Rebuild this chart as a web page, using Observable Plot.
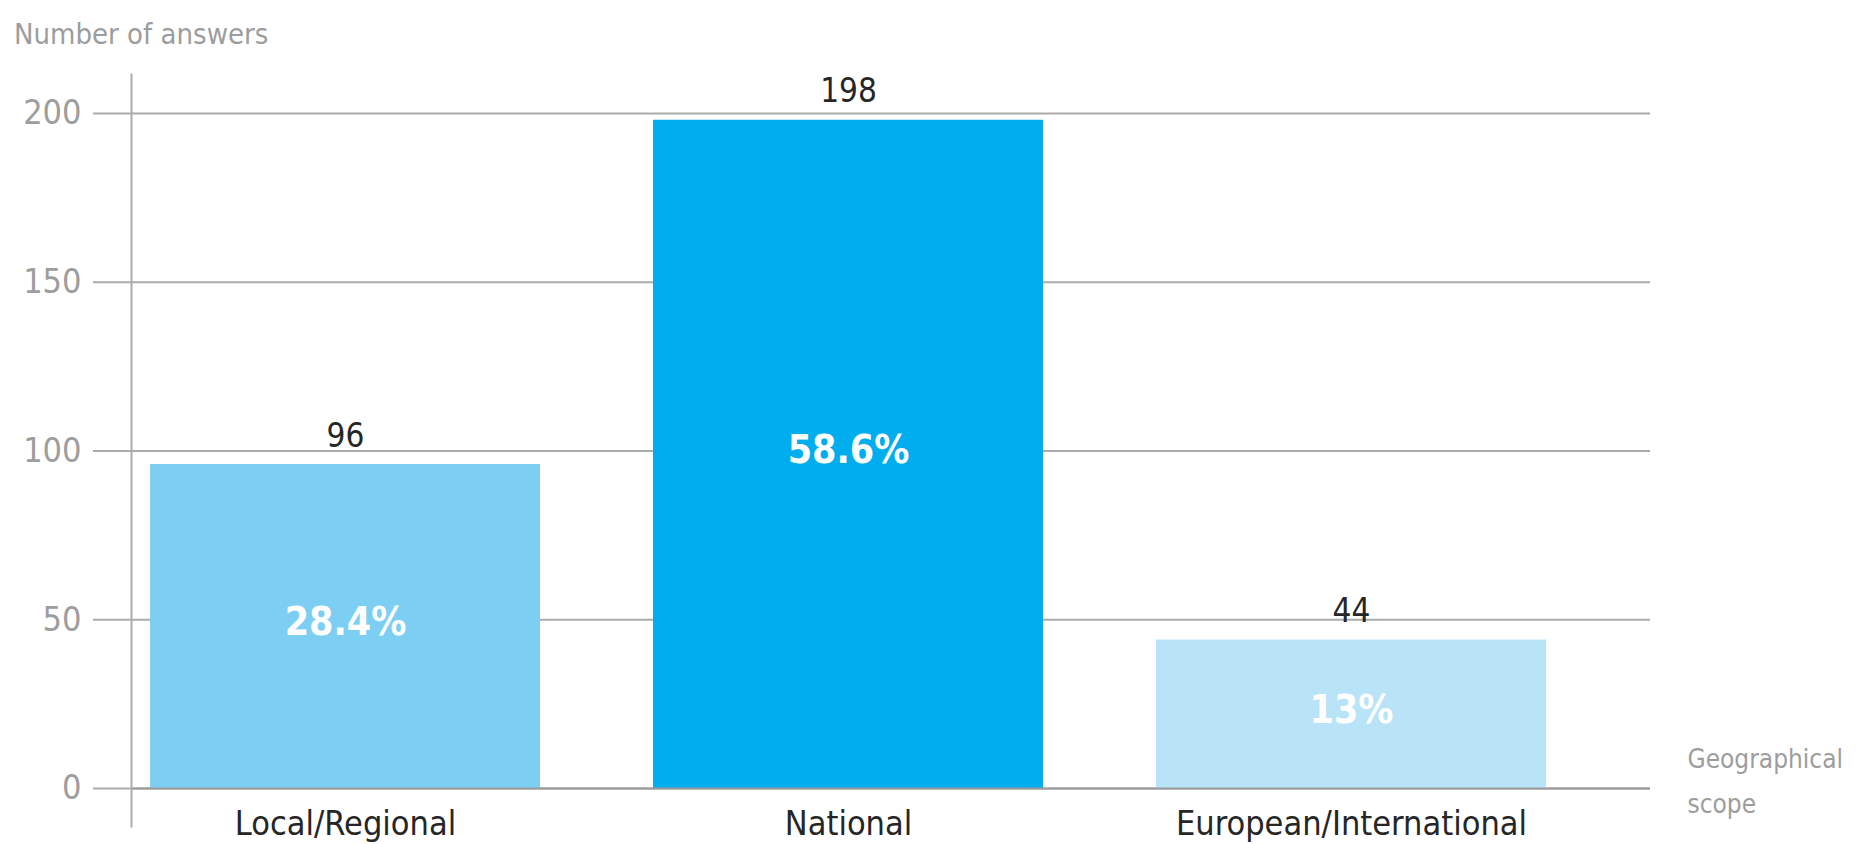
<!DOCTYPE html>
<html>
<head>
<meta charset="utf-8">
<script src="https://cdn.jsdelivr.net/npm/d3@7"></script>
<script src="https://cdn.jsdelivr.net/npm/@observablehq/plot@0.6"></script>
<style>
  html, body { margin: 0; padding: 0; background: #ffffff; }
  body { font-family: 'Liberation Sans Narrow', 'DejaVu Sans Condensed', 'Roboto Condensed', sans-serif; }
  #title { height: 56px; box-sizing: border-box; padding: 20px 0 0 14px; font-size: 29px; line-height: 29px; color: #9d9d9d; white-space: nowrap; }
  #chart svg { display: block; }
</style>
</head>
<body>
<div id="title"></div>
<div id="chart"></div>
<script>
// ---- data ----
const categories = ["Local/Regional", "National", "European/International"];
const answers = [96, 198, 44];
const shares = ["28.4%", "58.6%", "13%"];
const barColors = ["#7ccff3", "#00adee", "#b9e4f8"];
const yTicks = [0, 50, 100, 150, 200];
const yLabel = "Number of answers";
const xLabel = "Geographical\nscope";

const rows = categories.map((c, i) => ({category: c, answers: answers[i], share: shares[i]}));

const FONT = "'Liberation Sans Narrow', 'DejaVu Sans Condensed', 'Roboto Condensed', sans-serif";
const GRID = "#ababab";

document.getElementById("title").textContent = yLabel;

const chart = Plot.plot({
  width: 1864,
  height: 788,
  marginTop: 57,
  marginBottom: 56,
  marginLeft: 131,
  marginRight: 214,
  style: {fontFamily: FONT, background: "#ffffff"},
  x: {type: "band", domain: categories, range: [93.5, 1602.5], paddingInner: 0.2247, paddingOuter: 0.1123, label: null},
  y: {domain: [0, 200], label: null},
  color: {type: "ordinal", domain: categories, range: barColors},
  marks: [
    Plot.gridY(yTicks, {stroke: GRID, strokeOpacity: 1, strokeWidth: 2}),
    Plot.axisY(yTicks, {tickSize: 38, tickPadding: 12, stroke: GRID, strokeWidth: 2, fill: "#9d9d9d", fontSize: 34, label: null}),
    Plot.barY(rows, {x: "category", y: "answers", fill: "category"}),
    Plot.ruleY([0], {stroke: "#9a9a9a", strokeWidth: 2}),
    Plot.frame({anchor: "left", insetTop: -39, insetBottom: -38, stroke: GRID, strokeWidth: 2}),
    Plot.axisX({tickSize: 0, tickPadding: 22, fontSize: 34, fill: "#262626", label: null}),
    Plot.text(rows, {x: "category", y: "answers", text: d => String(d.answers), lineAnchor: "bottom", dy: -18, fontSize: 33, fill: "#262626"}),
    Plot.text(rows, {x: "category", y: d => d.answers / 2, text: "share", lineAnchor: "middle", dy: -4, fontSize: 39, fontWeight: "bold", fill: "#ffffff"}),
    Plot.text([xLabel], {frameAnchor: "bottom-right", textAnchor: "start", lineAnchor: "top", dx: 37, dy: -52, fontSize: 26, lineHeight: 1.72, fill: "#9d9d9d"})
  ]
});
document.getElementById("chart").appendChild(chart);
</script>
</body>
</html>
